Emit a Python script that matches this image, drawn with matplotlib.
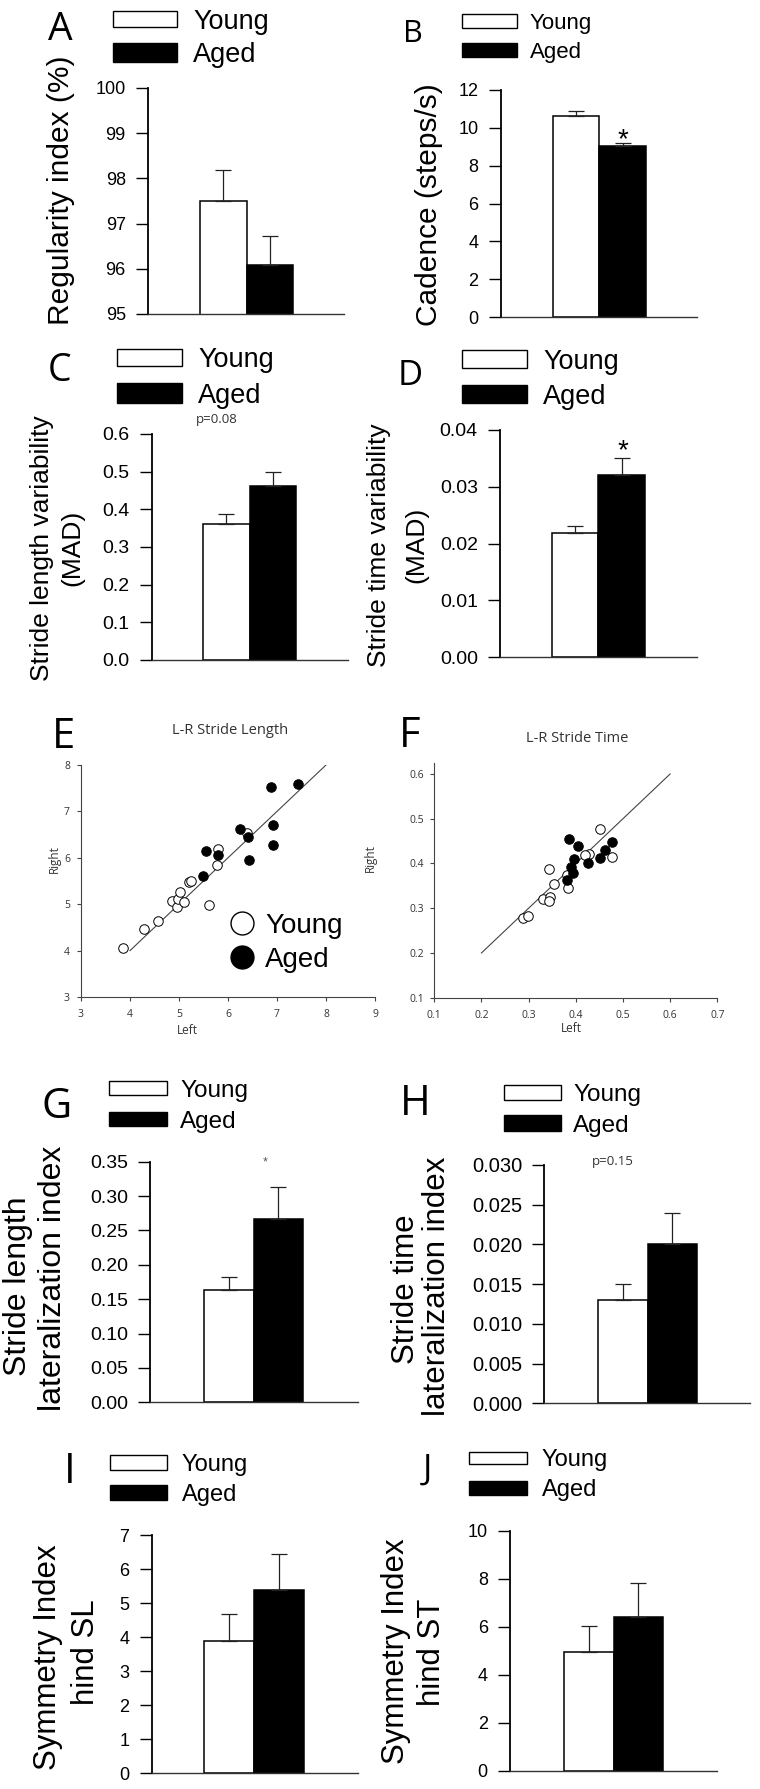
import numpy as np
import matplotlib
matplotlib.use('Agg')
import matplotlib.pyplot as plt
from matplotlib.patches import Rectangle
from matplotlib.lines import Line2D

W, H = 760, 1789
SANS = ['Liberation Sans', 'DejaVu Sans']
ALT = ['Open Sans', 'DejaVu Sans']
plt.rcParams['font.family'] = SANS

# ---------------- data ----------------
groups = ['Young', 'Aged']

reg_mean = [97.51, 96.09]
reg_err = [0.68, 0.64]
cad_mean = [10.63, 9.06]
cad_err = [0.28, 0.13]
slv_mean = [0.360, 0.461]
slv_err = [0.028, 0.037]
stv_mean = [0.0219, 0.0321]
stv_err = [0.0011, 0.0029]
sll_mean = [0.163, 0.267]
sll_err = [0.019, 0.046]
stl_mean = [0.0130, 0.0200]
stl_err = [0.0020, 0.0039]
sisl_mean = [3.88, 5.37]
sisl_err = [0.79, 1.06]
sist_mean = [4.94, 6.39]
sist_err = [1.10, 1.42]

# L-R stride length (left vs right)
young_left_sl = [3.86, 4.29, 4.58, 4.85, 4.95, 4.98, 5.10, 5.02, 5.20, 5.25, 5.62, 5.78, 5.79, 6.38]
young_right_sl = [4.06, 4.46, 4.64, 5.07, 4.95, 5.12, 5.05, 5.27, 5.48, 5.51, 4.98, 5.84, 6.20, 6.54]
aged_left_sl = [6.88, 7.43, 6.24, 6.41, 6.91, 6.91, 6.42, 5.56, 5.80, 5.49]
aged_right_sl = [7.52, 7.58, 6.62, 6.45, 6.70, 6.28, 5.95, 6.15, 6.05, 5.61]
identity_sl = [4, 8]

# L-R stride time
young_left_st = [0.452, 0.477, 0.427, 0.420, 0.344, 0.354, 0.383, 0.381, 0.331, 0.345, 0.343, 0.289, 0.299]
young_right_st = [0.478, 0.415, 0.422, 0.420, 0.388, 0.353, 0.346, 0.375, 0.320, 0.324, 0.317, 0.279, 0.283]
aged_left_st = [0.385, 0.404, 0.397, 0.390, 0.394, 0.381, 0.425, 0.452, 0.462, 0.476]
aged_right_st = [0.455, 0.440, 0.409, 0.391, 0.379, 0.363, 0.401, 0.413, 0.431, 0.448]
identity_st = [0.2, 0.6]

# tick labels
reg_ticks = [95, 96, 97, 98, 99, 100]
cad_ticks = [0, 2, 4, 6, 8, 10, 12]
slv_ticks = [0.0, 0.1, 0.2, 0.3, 0.4, 0.5, 0.6]
stv_ticks = [0.00, 0.01, 0.02, 0.03, 0.04]
sll_ticks = [0.00, 0.05, 0.10, 0.15, 0.20, 0.25, 0.30, 0.35]
stl_ticks = [0.000, 0.005, 0.010, 0.015, 0.020, 0.025, 0.030]
sisl_ticks = [0, 1, 2, 3, 4, 5, 6, 7]
sist_ticks = [0, 2, 4, 6, 8, 10]
sl_ticks_x = [3, 4, 5, 6, 7, 8, 9]
sl_ticks_y = [3, 4, 5, 6, 7, 8]
st_ticks_x = [0.1, 0.2, 0.3, 0.4, 0.5, 0.6, 0.7]
st_ticks_y = [0.1, 0.2, 0.3, 0.4, 0.5, 0.6]

# ---------------- figure ----------------
fig = plt.figure(figsize=(W / 100, H / 100), dpi=100)


def fx(x):
    return x / W


def fy(y):
    return 1 - y / H


def em(fs):
    return fs * 100 / 72.0


def add_ax(l, t, r, b):
    return fig.add_axes([fx(l), fy(b), (r - l) / W, (b - t) / H])


def ftext(x, y, s, **kw):
    return fig.text(fx(x), fy(y), s, **kw)


def bar_panel(box, bars, means, errs, ylim, ticks, fmt, tick_fs):
    l, t, r, b = box
    ax = add_ax(l, t, r, b)
    bl, br = bars
    unit = (br - bl) / 2.0
    ax.set_xlim(-0.5 - (bl - l) / unit, 1.5 + (r - br) / unit)
    ax.set_ylim(*ylim)
    pos = np.arange(len(groups))
    ax.bar(pos, means, width=1.0, color=['white', 'black'], edgecolor='black',
           linewidth=1.1, zorder=2)
    ax.errorbar(pos, means, yerr=[np.zeros(len(errs)), errs], fmt='none',
                ecolor='#222222', elinewidth=0.9, capsize=6, capthick=0.9, zorder=3)
    ax.set_yticks(ticks)
    ax.set_yticklabels([fmt.format(v) for v in ticks])
    ax.set_xticks([])
    for s in ['top', 'right']:
        ax.spines[s].set_visible(False)
    ax.spines['left'].set_linewidth(1.3)
    ax.spines['bottom'].set_linewidth(1.0)
    ax.spines['bottom'].set_color('#333333')
    ax.tick_params(axis='y', direction='out', length=9, width=1.0, pad=7,
                   labelsize=tick_fs, colors='black')
    ax.patch.set_alpha(0)
    return ax


def bar_legend(x0, x1, y_young, y_aged, tx, fs):
    for (ya, yb), fc, lab in zip([y_young, y_aged], ['white', 'black'], groups):
        fig.add_artist(Rectangle((fx(x0), fy(yb)), (x1 - x0) / W, (yb - ya) / H,
                                 transform=fig.transFigure, facecolor=fc,
                                 edgecolor='black', linewidth=1.0))
        yc = (ya + yb) / 2.0
        ftext(tx, yc + 0.358 * em(fs), lab, fontsize=fs, va='baseline', ha='left')


def letter(x, y_base, s, fs):
    ftext(x, y_base, s, fontsize=fs, ha='center', va='baseline', family=ALT)


def ylab(x, y, s, fs):
    ftext(x, y, s, fontsize=fs, rotation=90, ha='center', va='center')


def star(x, yc, fs, color='black'):
    ftext(x, yc + 0.585 * em(fs), '*', fontsize=fs, ha='center', va='baseline', color=color)


def scatter_panel(box, xlim, ylim, xt, yt, xfmt, yfmt, yl, yr, al, ar, line, ypad):
    l, t, r, b = box
    ax = add_ax(l, t, r, b)
    ax.set_xlim(*xlim)
    ax.set_ylim(*ylim)
    ax.plot(line, line, color='#444444', lw=0.8, zorder=1)
    ax.scatter(yl, yr, s=47, facecolors='white', edgecolors='black', linewidths=0.7, zorder=2)
    ax.scatter(al, ar, s=47, facecolors='black', edgecolors='black', linewidths=0.7, zorder=3)
    ax.set_xticks(xt)
    ax.set_xticklabels([xfmt.format(v) for v in xt], family=ALT)
    ax.set_yticks(yt)
    ax.set_yticklabels([yfmt.format(v) for v in yt], family=ALT)
    for s in ['top', 'right']:
        ax.spines[s].set_visible(False)
    for s in ['left', 'bottom']:
        ax.spines[s].set_linewidth(0.8)
        ax.spines[s].set_color('#444444')
    ax.tick_params(axis='x', direction='out', length=3, width=0.8, pad=6,
                   labelsize=7.5, labelcolor='#333333', color='#444444')
    ax.tick_params(axis='y', direction='out', length=3, width=0.8, pad=ypad,
                   labelsize=7.5, labelcolor='#333333', color='#444444')
    ax.patch.set_alpha(0)
    return ax


# ---- A ----
bar_panel((148, 88, 344, 314), (200, 293), reg_mean, reg_err, (95, 100), reg_ticks, '{:d}', 13)
bar_legend(113, 177, (11, 27), (43, 62), 193, 19.5)
letter(60.5, 40, 'A', 28)
ylab(61, 190, 'Regularity index (%)', 21.5)

# ---- B ----
bar_panel((500.7, 90, 697, 317), (552.7, 646), cad_mean, cad_err, (0, 12), cad_ticks, '{:d}', 13)
bar_legend(462, 517, (14, 28), (43, 57), 530, 16)
letter(412.5, 42, 'B', 22)
ylab(429, 205, 'Cadence (steps/s)', 21.5)
star(623, 131, 20)

# ---- C ----
bar_panel((151.7, 434, 348, 660), (203, 296), slv_mean, slv_err, (0, 0.6), slv_ticks, '{:.1f}', 14)
bar_legend(117, 182, (349, 366), (383, 403), 198, 19.5)
letter(59.5, 381, 'C', 27)
ylab(42, 548, 'Stride length variability', 19)
ylab(72, 548, '(MAD)', 19)
ftext(217, 419, 'p=0.08', fontsize=9.5, ha='center', va='center', family=ALT, color='#333333')

# ---- D ----
bar_panel((500, 430, 697, 657), (551.7, 645), stv_mean, stv_err, (0, 0.04), stv_ticks, '{:.2f}', 14)
bar_legend(462, 527, (350, 368), (385, 403), 543, 19.5)
letter(410.5, 385, 'D', 25)
ylab(379, 545, 'Stride time variability', 19)
ylab(416, 545, '(MAD)', 19)
star(623, 442, 20)

# ---- E ----
scatter_panel((81, 765, 375, 997), (3, 9), (3, 8), sl_ticks_x, sl_ticks_y, '{:d}', '{:d}',
              young_left_sl, young_right_sl, aged_left_sl, aged_right_sl, identity_sl, 5)
letter(64, 748, 'E', 30)
ftext(230, 731, 'L-R Stride Length', fontsize=10.5, ha='center', va='center', family=ALT, color='#333333')
ftext(187, 1030, 'Left', fontsize=8.5, ha='center', va='center', family=ALT, color='#333333')
ftext(54, 859, 'Right', fontsize=8.5, ha='center', va='center', rotation=90, family=ALT, color='#333333')
for yc, fc, lab in zip([922.7, 956.7], ['white', 'black'], groups):
    fig.add_artist(Line2D([fx(241.7)], [fy(yc)], transform=fig.transFigure, marker='o',
                          markersize=16.5, markerfacecolor=fc, markeredgecolor='black',
                          markeredgewidth=1.0, linestyle='none'))
    ftext(265, yc + 0.358 * em(20), lab, fontsize=20, ha='left', va='baseline')

# ---- F ----
scatter_panel((434.3, 763, 717.3, 997.7), (0.1, 0.7), (0.1, 0.6245), st_ticks_x, st_ticks_y,
              '{:.1f}', '{:.1f}', young_left_st, young_right_st, aged_left_st, aged_right_st,
              identity_st, 4.5)
letter(410, 747, 'F', 30)
ftext(577, 739, 'L-R Stride Time', fontsize=10.5, ha='center', va='center', family=ALT, color='#333333')
ftext(571, 1029, 'Left', fontsize=8.5, ha='center', va='center', family=ALT, color='#333333')
ftext(370, 858, 'Right', fontsize=8.5, ha='center', va='center', rotation=90, family=ALT, color='#333333')

# ---- G ----
bar_panel((150, 1161.7, 358, 1402.3), (204, 303), sll_mean, sll_err, (0, 0.35), sll_ticks, '{:.2f}', 14)
bar_legend(109, 167, (1081, 1095), (1112, 1126), 180, 17.5)
letter(56.5, 1118, 'G', 30)
ylab(18, 1286, 'Stride length', 23)
ylab(53, 1278, 'lateralization index', 23)
star(265, 1158, 9, color='#555555')

# ---- H ----
bar_panel((544.3, 1165, 750, 1403.3), (598.3, 696.7), stl_mean, stl_err, (0, 0.03), stl_ticks, '{:.3f}', 14.5)
bar_legend(504, 561, (1085, 1100), (1115, 1131), 573, 17.5)
letter(415, 1115, 'H', 30)
ylab(406, 1289, 'Stride time', 22.5)
ylab(437, 1286, 'lateralization index', 22.5)
ftext(613, 1162, 'p=0.15', fontsize=9.5, ha='center', va='center', family=ALT, color='#333333')

# ---- I ----
bar_panel((151.7, 1535, 358, 1773.3), (204, 304), sisl_mean, sisl_err, (0, 7), sisl_ticks, '{:d}', 13)
bar_legend(110, 167, (1455, 1470), (1485, 1500), 182, 17)
letter(69.5, 1483, 'I', 30)
ylab(48, 1657, 'Symmetry Index', 22.5)
ylab(86, 1652, 'hind SL', 22.5)

# ---- J ----
bar_panel((510, 1530.7, 717, 1770.7), (564, 663), sist_mean, sist_err, (0, 10), sist_ticks, '{:d}', 13)
bar_legend(469, 527, (1452, 1464), (1481, 1495), 542, 17)
letter(427.5, 1479, 'J', 25)
ylab(396, 1651, 'Symmetry Index', 22.5)
ylab(432, 1652, 'hind ST', 22.5)

fig.savefig('out.png', dpi=100)
